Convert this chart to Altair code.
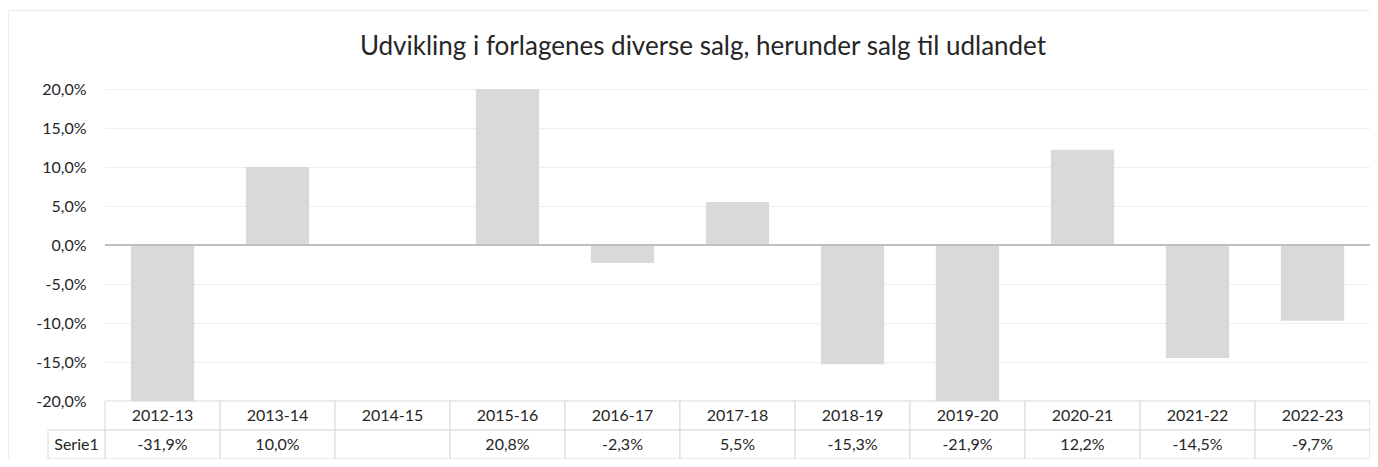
import altair as alt
import pandas as pd

title_text = "Udvikling i forlagenes diverse salg, herunder salg til udlandet"
categories = ["2012-13", "2013-14", "2014-15", "2015-16", "2016-17", "2017-18",
              "2018-19", "2019-20", "2020-21", "2021-22", "2022-23"]
values = [-31.9, 10.0, None, 20.8, -2.3, 5.5, -15.3, -21.9, 12.2, -14.5, -9.7]
y_ticks = [-20, -15, -10, -5, 0, 5, 10, 15, 20]
series_name = "Serie1"

labels = ["" if v is None else f"{v:.1f}".replace(".", ",") + "%" for v in values]
df = pd.DataFrame({"cat": categories, "v": values, "lab": labels})

W, H = 1265, 312
ROW = 29
FONT = "Lato"
TXT = "#262626"

xscale = alt.Scale(domain=categories, paddingInner=0, paddingOuter=0)
X = alt.X("cat:N", scale=xscale, sort=categories, axis=None)
Y = alt.Y("v:Q", title=None,
          scale=alt.Scale(domain=[-20, 20], clamp=True, nice=False),
          axis=alt.Axis(values=y_ticks, ticks=False, domain=False, labelPadding=19,
                        gridColor="#efefef", gridWidth=1,
                        labelFont=FONT, labelFontSize=16, labelColor=TXT,
                        labelExpr="replace(replace(format(datum.value, '.1f'), '.', ','), '\u2212', '-') + '%'"))

bars = alt.Chart(df).mark_bar(color="#d9d9d9", width=alt.RelativeBandSize(0.55)).encode(
    x=X, y=Y,
)

zero = alt.Chart(pd.DataFrame({"v": [0]})).mark_rule(color="#bfbfbf", strokeWidth=2).encode(
    y=Y
)

cells_cat = alt.Chart(df).mark_rect(fill="white", stroke="#d9d9d9", strokeWidth=1).encode(
    x=X, y=alt.value(H), y2=alt.value(H + ROW)
)
cells_val = alt.Chart(df).mark_rect(fill="white", stroke="#d9d9d9", strokeWidth=1).encode(
    x=X, y=alt.value(H + ROW), y2=alt.value(H + 2 * ROW)
)
name_df = pd.DataFrame({"name": [series_name]})
cell_name = alt.Chart(name_df).mark_rect(fill="white", stroke="#d9d9d9", strokeWidth=1).encode(
    x=alt.value(-57), x2=alt.value(0), y=alt.value(H + ROW), y2=alt.value(H + 2 * ROW)
)
text_name = alt.Chart(name_df).mark_text(font=FONT, fontSize=16, color=TXT, baseline="middle").encode(
    x=alt.value(-28.5), y=alt.value(H + ROW * 1.5), text="name:N"
)
text_cat = alt.Chart(df).mark_text(font=FONT, fontSize=16, color=TXT, baseline="middle").encode(
    x=X, y=alt.value(H + ROW * 0.5), text="cat:N"
)
text_val = alt.Chart(df).mark_text(font=FONT, fontSize=16, color=TXT, baseline="middle").encode(
    x=X, y=alt.value(H + ROW * 1.5), text="lab:N"
)

title_df = pd.DataFrame({"t": [title_text]})
title = alt.Chart(title_df).mark_text(font=FONT, fontSize=26, color=TXT, baseline="middle",
                                      align="center").encode(
    x=alt.value(598), y=alt.value(-42), text="t:N"
)

frame = alt.Chart(title_df).mark_rect(fillOpacity=0, stroke="#efebe0", strokeWidth=1).encode(
    x=alt.value(-96.5), x2=alt.value(1400), y=alt.value(-78.5), y2=alt.value(500)
)

chart = alt.layer(frame, bars, zero, cells_cat, cells_val, cell_name,
                  text_cat, text_val, text_name, title).properties(
    width=W, height=H,
    autosize=alt.AutoSizeParams(type="none"),
    padding={"left": 97, "top": 81, "right": 0, "bottom": 58},
    background="white",
).configure_view(strokeWidth=0)

chart.save("out.html", embed_options={"renderer": "svg", "actions": False})
